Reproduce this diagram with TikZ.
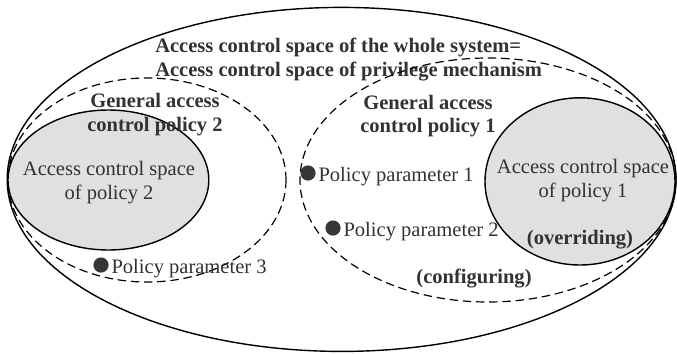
\documentclass[tikz,border=0pt]{standalone}
\usepackage{fontspec}
\setmainfont{Liberation Serif}
\usetikzlibrary{positioning}
\definecolor{acFill}{RGB}{224,224,224}
\definecolor{acText}{RGB}{50,50,50}
\definecolor{acDot}{RGB}{55,55,55}
\newcommand{\FS}{\fontsize{14.6}{16.6}\selectfont}
\newcommand{\GAP}{0.06cm}

\begin{document}
\begin{tikzpicture}[
    rim/.style={draw=black, line width=1pt},
    fence/.style={draw=black, line width=0.85pt, dash pattern=on 6pt off 3.4pt},
    region/.style={rim, fill=acFill},
    txt/.style={font=\FS, text=acText, inner sep=0pt},
    hd/.style={font=\FS\bfseries, text=acText, inner sep=0pt},
    pdot/.style={circle, fill=acDot, inner sep=0pt, minimum size=0.38cm},
  ]
  \useasboundingbox (0,0) rectangle (16.925,8.825);

  %% ================= the whole system =================
  \draw[rim] (8.54,4.34) ellipse [x radius=8.36, y radius=4.30];
  \node[hd, anchor=west, align=left] (whole) at (3.875,7.34)
    {Access control space of the whole system=\\Access control space of privilege mechanism};

  %% ================= policy 2 (left) =================
  \draw[region] (2.71,4.325) ellipse [x radius=2.51, y radius=1.75];
  \draw[fence] (3.675,4.325) ellipse [x radius=3.475, y radius=2.55];
  \node[hd, align=center] (gen2) at (3.875,5.96) {General access\\control policy 2};
  \node[txt, align=center] (acs2) at (2.725,4.26) {Access control space\\of policy 2};
  \node[pdot] (p3) at (2.525,2.2) {};
  \node[txt, right=\GAP of p3, yshift=-0.08cm] (p3l) {Policy parameter 3};

  %% ================= policy 1 (right) =================
  \draw[fence] (12.2,4.325) ellipse [x radius=4.7, y radius=3.05];
  \draw[region] (14.5,4.29) ellipse [x radius=2.375, y radius=2.09];
  \node[hd, align=center] (gen1) at (10.7,5.93) {General access\\control policy 1};
  \node[txt, align=center] (acs1) at (14.575,4.31) {Access control space\\of policy 1};
  \node[hd] (over) at (14.5,2.825) {(overriding)};
  \node[hd] (conf) at (11.85,1.85) {(configuring)};
  \node[pdot] (p1) at (7.7,4.5) {};
  \node[txt, right=\GAP of p1, yshift=-0.08cm] (p1l) {Policy parameter 1};
  \node[pdot] (p2) at (8.325,3.125) {};
  \node[txt, right=\GAP of p2, yshift=-0.08cm] (p2l) {Policy parameter 2};

\end{tikzpicture}
\end{document}
